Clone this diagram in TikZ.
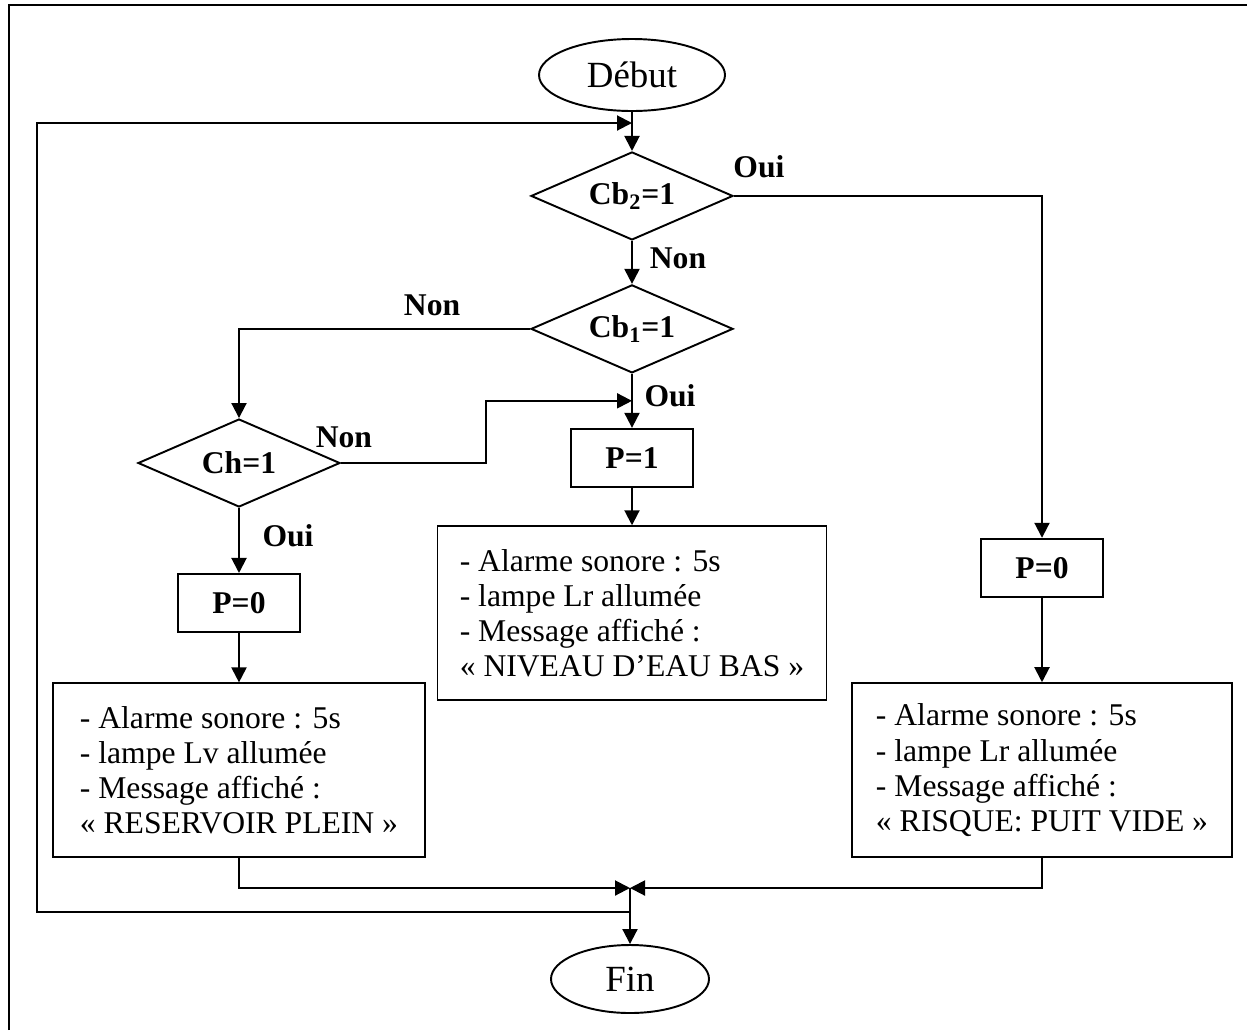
\documentclass[tikz,border=0pt]{standalone}
\usepackage{fontspec}
\setmainfont{Liberation Serif}
\usepackage{xcolor}
\usepackage{tikz}
\usetikzlibrary{arrows.meta, positioning, shapes.geometric, calc}

\begin{document}
\begin{tikzpicture}[
				font=\fontsize{18}{20}\selectfont,
				term/.style={draw, ellipse, line width=1.1pt, inner sep=0pt, minimum width=3.72cm, minimum height=1.44cm, font=\fontsize{21}{23}\selectfont},
				test/.style={draw, diamond, aspect=2.3, line width=1.1pt, inner sep=0pt, minimum width=4.04cm, minimum height=1.76cm, font=\bfseries\fontsize{18}{20}\selectfont},
				act/.style={draw, line width=1.1pt, minimum width=2.44cm, minimum height=1.17cm, font=\bfseries\fontsize{18}{20}\selectfont},
				msg/.style={draw, line width=1.1pt, align=left, minimum height=3.48cm},
				lbl/.style={font=\bfseries\fontsize{18}{20}\selectfont, inner sep=0pt},
				arrow/.style={-{Triangle[length=0.3cm, width=0.3cm]}, line width=1.15pt}
				]
				
				\useasboundingbox (0,0) rectangle (24.94,-20.6);
				% Frame (top and left sides)
				\draw[line width=1.6pt] (0.18,-20.6) -- (0.18,-0.1) -- (24.94,-0.1);
				
				% Nodes
				\node[term] (debut) at (12.64,-1.5) {Début};
				\node[test, below=0.78cm of debut] (cb2) {Cb\textsubscript{2}=1};
				\node[test, below=0.86cm of cb2] (cb1) {Cb\textsubscript{1}=1};
				\node[act, below=1.08cm of cb1] (p1) {P=1};
				\node[msg, minimum width=7.78cm, below=0.74cm of p1] (msgmid) {- Alarme sonore : 5s\\- lampe Lr allumée\\- Message affiché :\\« NIVEAU D’EAU BAS »};
				
				\node[test] (ch) at (4.78,-9.26) {Ch=1};
				\node[act, below=1.3cm of ch] (p0g) {P=0};
				\node[msg, minimum width=7.44cm, below=0.98cm of p0g] (msgg) {- Alarme sonore : 5s\\- lampe Lv allumée\\- Message affiché :\\« RESERVOIR PLEIN »};
				
				\node[act] (p0d) at (20.84,-11.36) {P=0};
				\node[msg, minimum width=7.6cm, below=1.68cm of p0d] (msgd) {- Alarme sonore : 5s\\- lampe Lr allumée\\- Message affiché :\\« RISQUE: PUIT VIDE »};
				
				\node[term, minimum width=3.16cm, minimum height=1.36cm] (fin) at (12.6,-19.58) {Fin};
				
				\coordinate (join) at (12.6,-17.76);
				\coordinate (loopbas) at (0.74,-18.24);
				\coordinate (loophaut) at (0.74,-2.46);
				\coordinate (entree) at ($(cb1.south)!0.5!(p1.north)$);
				
				% Labels
				\node[lbl] (oui1) at ([xshift=0.5cm, yshift=0.58cm]cb2.east) {Oui};
				\node[lbl] (non1) at ([xshift=0.92cm, yshift=-0.34cm]cb2.south) {Non};
				\node[lbl] (non2) at ([xshift=-1.96cm, yshift=0.48cm]cb1.west) {Non};
				\node[lbl] (oui2) at ([xshift=0.76cm, yshift=-0.44cm]cb1.south) {Oui};
				\node[lbl] (non3) at ([xshift=0.06cm, yshift=0.52cm]ch.east) {Non};
				\node[lbl] (oui3) at ([xshift=0.98cm, yshift=-0.56cm]ch.south) {Oui};
				
				% Arrows (main column)
				\draw[arrow] (debut) -- (cb2);
				\draw[arrow] (cb2) -- (cb1);
				\draw[arrow] (cb1) -- (p1);
				\draw[arrow] (p1) -- (msgmid);
				
				% Arrows (branches)
				\draw[arrow] (cb2.east) -| (p0d);
				\draw[arrow] (p0d) -- (msgd);
				\draw[arrow] (cb1.west) -| (ch);
				\draw[arrow] (ch.east) -- ++(2.9,0) |- (entree);
				\draw[arrow] (ch) -- (p0g);
				\draw[arrow] (p0g) -- (msgg);
				
				% Arrows (end and loop back)
				\draw[arrow] (msgg) |- (join);
				\draw[arrow] (msgd) |- (join);
				\draw[arrow] (join) -- (fin);
				\draw[arrow] (join |- loopbas) -| (loophaut) -- (loophaut -| debut);
				
			\end{tikzpicture}
\end{document}
